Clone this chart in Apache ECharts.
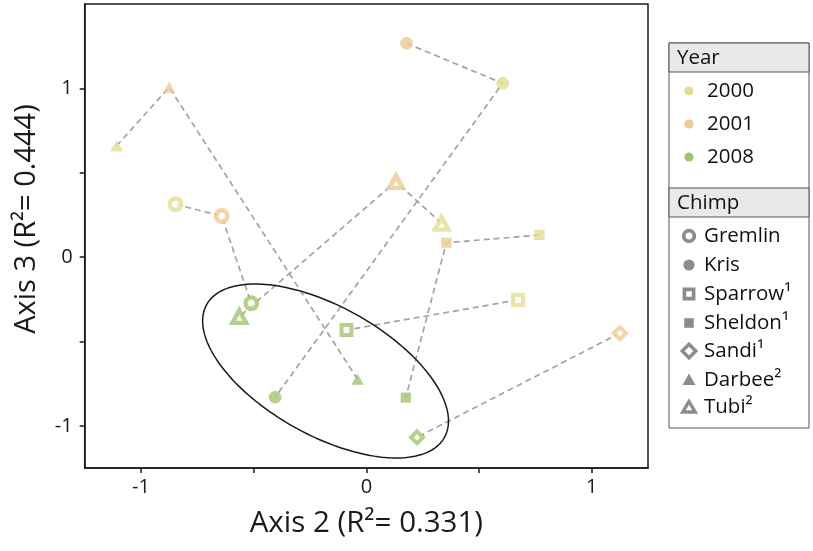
<!DOCTYPE html>
<html><head><meta charset="utf-8">
<script src="https://cdn.jsdelivr.net/npm/echarts@6/dist/echarts.min.js"></script>
<style>html,body{margin:0;padding:0;background:#fff}#c{width:813px;height:551px}</style>
</head><body><div id="c"></div>
<script>
// ---------- data ----------
const years = ['2000', '2001', '2008'];
const chimps = ['Gremlin', 'Kris', 'Sparrow', 'Sheldon', 'Sandi', 'Darbee', 'Tubi'];
const chimpLabels = ['Gremlin', 'Kris', 'Sparrow¹', 'Sheldon¹', 'Sandi¹', 'Darbee²', 'Tubi²'];
// points per chimp, in the order they are joined: [Axis 2, Axis 3, year]
const gremlin = [[-0.847, 0.313, '2000'], [-0.642, 0.243, '2001'], [-0.511, -0.274, '2008']];
const kris    = [[0.178, 1.267, '2001'], [0.605, 1.030, '2000'], [-0.405, -0.831, '2008']];
const sparrow = [[0.673, -0.254, '2000'], [-0.088, -0.432, '2008']];
const sheldon = [[0.768, 0.131, '2000'], [0.355, 0.085, '2001'], [0.175, -0.833, '2008']];
const sandi   = [[1.125, -0.451, '2001'], [0.225, -1.068, '2008']];
const darbee  = [[-1.108, 0.660, '2000'], [-0.875, 1.006, '2001'], [-0.039, -0.724, '2008']];
const tubi    = [[0.334, 0.200, '2000'], [0.131, 0.447, '2001'], [-0.564, -0.353, '2008']];
const chimpPoints = [gremlin, kris, sparrow, sheldon, sandi, darbee, tubi];
const xTicks = [-1, -0.5, 0, 0.5, 1];
const xTickLabels = [-1, 0, 1];
const yTicks = [-1, -0.5, 0, 0.5, 1];
const yTickLabels = [-1, 0, 1];
// 2008 group ellipse: centre and two conjugate semi-axes (data units)
const ellipseCenter = [-0.181, -0.675];
const ellipseAxisA = [0.5277, -0.3936];
const ellipseAxisB = [-0.1385, -0.3328];

// ---------- styles ----------
const yearColor = { '2000': '#e4df8f', '2001': '#efca92', '2008': '#a3c56d' };
const markerStyle = {
  Gremlin: { symbol: 'circle', size: 11.5, hollow: true, bw: 4.5 },
  Kris:    { symbol: 'circle', size: 12.5 },
  Sparrow: { symbol: 'rect', size: 10, hollow: true, bw: 4 },
  Sheldon: { symbol: 'rect', size: 10 },
  Sandi:   { symbol: 'diamond', size: 12, hollow: true, bw: 4 },
  Darbee:  { symbol: 'triangle', size: [12, 11] },
  Tubi:    { symbol: 'triangle', size: [13.5, 12.5], hollow: true, bw: 4.5 }
};
const FONT = '"Open Sans", "Noto Sans", sans-serif';
const legendGray = '#8c8c8c';

const series = [];
chimps.forEach((name, i) => {
  const pts = chimpPoints[i];
  series.push({
    name: name + ' path', type: 'line', z: 1, silent: true,
    symbol: 'none', animation: false,
    lineStyle: { color: '#a3a3a3', width: 1.7, type: [6, 4] },
    data: pts.map(p => [p[0], p[1]])
  });
  const st = markerStyle[name];
  series.push({
    name: name, type: 'scatter', z: 3, animation: false,
    symbol: st.symbol, symbolSize: st.size,
    data: pts.map(p => ({
      value: [p[0], p[1]],
      itemStyle: st.hollow
        ? { color: '#fff', borderColor: yearColor[p[2]], borderWidth: st.bw }
        : { color: yearColor[p[2]], borderColor: 'rgba(0,0,0,0.06)', borderWidth: 0.8 }
    }))
  });
});
series.push({
  type: 'custom', coordinateSystem: 'cartesian2d', z: 2, silent: true, animation: false,
  data: [ellipseCenter],
  renderItem: (params, api) => {
    const pts = [];
    for (let k = 0; k <= 180; k++) {
      const t = k / 180 * 2 * Math.PI;
      pts.push(api.coord([
        ellipseCenter[0] + Math.cos(t) * ellipseAxisA[0] + Math.sin(t) * ellipseAxisB[0],
        ellipseCenter[1] + Math.cos(t) * ellipseAxisA[1] + Math.sin(t) * ellipseAxisB[1]
      ]));
    }
    return { type: 'polygon', shape: { points: pts }, style: { fill: 'none', stroke: '#1a1a1a', lineWidth: 1.5 } };
  }
});

// ---------- legend (graphic) ----------
const LX = 669, LW = 140;
const LFONT = '20.5px ' + FONT;
const graphics = [];
graphics.push({ type: 'rect', shape: { x: LX, y: 43, width: LW, height: 385 }, style: { fill: '#fff', stroke: '#555', lineWidth: 1 }, z: 10 });
graphics.push({ type: 'rect', shape: { x: LX, y: 43, width: LW, height: 29 }, style: { fill: '#e9e9e9', stroke: '#555', lineWidth: 1 }, z: 11 });
graphics.push({ type: 'text', x: 677, y: 58, style: { text: 'Year', font: LFONT, fill: '#111', verticalAlign: 'middle' }, z: 12 });
const yearY = [91, 124, 157];
years.forEach((yr, i) => {
  graphics.push({ type: 'circle', shape: { cx: 689, cy: yearY[i], r: 4.6 }, style: { fill: yearColor[yr] }, z: 12 });
  graphics.push({ type: 'text', x: 707, y: yearY[i], style: { text: yr, font: LFONT, fill: '#111', verticalAlign: 'middle' }, z: 12 });
});
graphics.push({ type: 'rect', shape: { x: LX, y: 188, width: LW, height: 29 }, style: { fill: '#e9e9e9', stroke: '#555', lineWidth: 1 }, z: 11 });
graphics.push({ type: 'text', x: 677, y: 203, style: { text: 'Chimp', font: LFONT, fill: '#111', verticalAlign: 'middle' }, z: 12 });
const chimpY = [236, 265, 294, 323, 351, 380, 407];
const cx = 689;
const icon = (name, y) => {
  switch (name) {
    case 'Gremlin': return { type: 'circle', shape: { cx: cx, cy: y, r: 5.3 }, style: { fill: '#fff', stroke: legendGray, lineWidth: 3.8 } };
    case 'Kris': return { type: 'circle', shape: { cx: cx, cy: y, r: 5.6 }, style: { fill: legendGray } };
    case 'Sparrow': return { type: 'rect', shape: { x: cx - 4.6, y: y - 4.6, width: 9.2, height: 9.2 }, style: { fill: '#fff', stroke: legendGray, lineWidth: 3.6 } };
    case 'Sheldon': return { type: 'rect', shape: { x: cx - 4.8, y: y - 4.8, width: 9.6, height: 9.6 }, style: { fill: legendGray } };
    case 'Sandi': return { type: 'polygon', shape: { points: [[cx, y - 6.8], [cx + 6.8, y], [cx, y + 6.8], [cx - 6.8, y]] }, style: { fill: '#fff', stroke: legendGray, lineWidth: 3.4 } };
    case 'Darbee': return { type: 'polygon', shape: { points: [[cx, y - 6.5], [cx + 6.5, y + 5], [cx - 6.5, y + 5]] }, style: { fill: legendGray } };
    case 'Tubi': return { type: 'polygon', shape: { points: [[cx, y - 5.5], [cx + 6.2, y + 5], [cx - 6.2, y + 5]] }, style: { fill: '#fff', stroke: legendGray, lineWidth: 3.4, lineJoin: 'miter' } };
  }
};
chimps.forEach((name, i) => {
  const g = icon(name, chimpY[i]); g.z = 12; graphics.push(g);
  graphics.push({ type: 'text', x: 704, y: chimpY[i], style: { text: chimpLabels[i], font: LFONT, fill: '#111', verticalAlign: 'middle' }, z: 12 });
});

const axisLineStyle = { color: '#1a1a1a', width: 1.5 };
const option = {
  backgroundColor: '#fff',
  animation: false,
  grid: { left: 84.7, right: 165, top: 4, bottom: 83, show: true, borderColor: '#1a1a1a', borderWidth: 1.5, backgroundColor: 'transparent' },
  xAxis: {
    type: 'value', min: -1.25, max: 1.25,
    name: 'Axis 2 (R²= 0.331)', nameLocation: 'middle', nameGap: 41,
    nameTextStyle: { fontFamily: FONT, fontSize: 29.5, color: '#1a1a1a' },
    axisLine: { show: true, onZero: false, lineStyle: axisLineStyle },
    axisTick: { show: true, customValues: xTicks, length: 5, lineStyle: axisLineStyle },
    axisLabel: { customValues: xTickLabels, fontFamily: FONT, fontSize: 20, color: '#1a1a1a', margin: 9 },
    splitLine: { show: false }
  },
  yAxis: {
    type: 'value', min: -1.25, max: 1.5,
    name: 'Axis 3 (R²= 0.444)', nameLocation: 'middle', nameGap: 43,
    nameTextStyle: { fontFamily: FONT, fontSize: 29, color: '#1a1a1a', padding: [0, 0, 0, 34] },
    axisLine: { show: true, onZero: false, lineStyle: axisLineStyle },
    axisTick: { show: true, customValues: yTicks, length: 5, lineStyle: axisLineStyle },
    axisLabel: { customValues: yTickLabels, fontFamily: FONT, fontSize: 20, color: '#1a1a1a', margin: 12 },
    splitLine: { show: false }
  },
  graphic: graphics,
  series: series
};
const chart = echarts.init(document.getElementById('c'), null, { renderer: 'canvas' });
chart.setOption(option);
</script></body></html>
